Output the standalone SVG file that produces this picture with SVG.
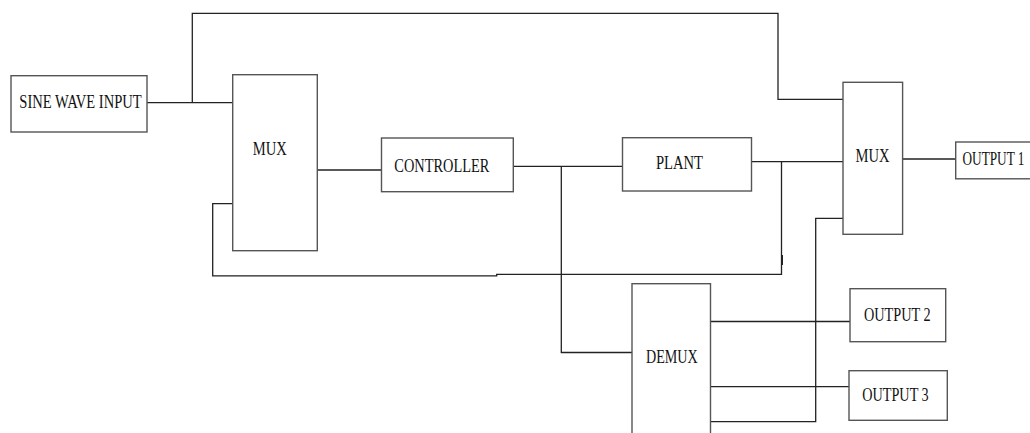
<svg xmlns="http://www.w3.org/2000/svg" width="1030" height="433" viewBox="0 0 1030 433">
<style>
.box{fill:#fff;stroke:#555;stroke-width:1.4}
.ln{fill:none;stroke:#222;stroke-width:1.3}
.t{font-family:"Liberation Serif","Times New Roman",serif;font-size:19px;fill:#111}
</style>
<rect width="1030" height="433" fill="#fff"/>
<g id="connectors">
<polyline class="ln" points="147,102.7 232.7,102.7"/>
<polyline class="ln" points="192.3,102.7 192.3,13.3 778,13.3 778,99.3 843,99.3"/>
<polyline class="ln" points="317.3,170 381.5,170"/>
<polyline class="ln" points="513.3,166.3 622.5,166.3"/>
<polyline class="ln" points="561.3,166.3 561.3,352.5 632,352.5"/>
<polyline class="ln" points="751.5,161.7 843,161.7"/>
<polyline class="ln" points="781.5,161.7 781.5,274.3 496.7,274.3 496.7,275.8 212.7,275.8 212.7,203.7 232.7,203.7"/>
<line x1="782" y1="255" x2="782" y2="265" stroke="#222" stroke-width="2"/>
<polyline class="ln" points="902.6,159 955.7,159"/>
<polyline class="ln" points="710.5,321.5 851.5,321.5"/>
<polyline class="ln" points="710.5,386.7 851.5,386.7"/>
<polyline class="ln" points="710.5,421.7 815.7,421.7 815.7,218.3 843,218.3"/>
</g>
<g id="sine">
<rect class="box" x="11" y="75.7" width="136" height="56.3"/>
<text class="t" x="19.3" y="108.3" textLength="122.4" lengthAdjust="spacingAndGlyphs">SINE WAVE INPUT</text>
</g>
<g id="mux1">
<rect class="box" x="232.7" y="74.7" width="84.6" height="176"/>
<text class="t" x="252.7" y="155.3" textLength="34" lengthAdjust="spacingAndGlyphs">MUX</text>
</g>
<g id="controller">
<rect class="box" x="381.5" y="138" width="131.8" height="53.7"/>
<text class="t" x="394.3" y="171.7" textLength="95" lengthAdjust="spacingAndGlyphs">CONTROLLER</text>
</g>
<g id="plant">
<rect class="box" x="622.5" y="137.7" width="129" height="53.3"/>
<text class="t" x="656" y="169.3" textLength="47" lengthAdjust="spacingAndGlyphs">PLANT</text>
</g>
<g id="mux2">
<rect class="box" x="843" y="82.3" width="59.6" height="152"/>
<text class="t" x="855.6" y="162.3" textLength="34" lengthAdjust="spacingAndGlyphs">MUX</text>
</g>
<g id="output1">
<rect class="box" x="955.7" y="142" width="80" height="36.8"/>
<text class="t" x="962.5" y="165.3" textLength="62" lengthAdjust="spacingAndGlyphs">OUTPUT 1</text>
</g>
<g id="demux">
<rect class="box" x="632" y="283.7" width="78.5" height="160"/>
<text class="t" x="646" y="363.3" textLength="51.7" lengthAdjust="spacingAndGlyphs">DEMUX</text>
</g>
<g id="output2">
<rect class="box" x="850" y="288.7" width="95.7" height="53"/>
<text class="t" x="864" y="321" textLength="66.7" lengthAdjust="spacingAndGlyphs">OUTPUT 2</text>
</g>
<g id="output3">
<rect class="box" x="849" y="370.7" width="98.3" height="49.6"/>
<text class="t" x="862.3" y="400.7" textLength="66.4" lengthAdjust="spacingAndGlyphs">OUTPUT 3</text>
</g>
</svg>
